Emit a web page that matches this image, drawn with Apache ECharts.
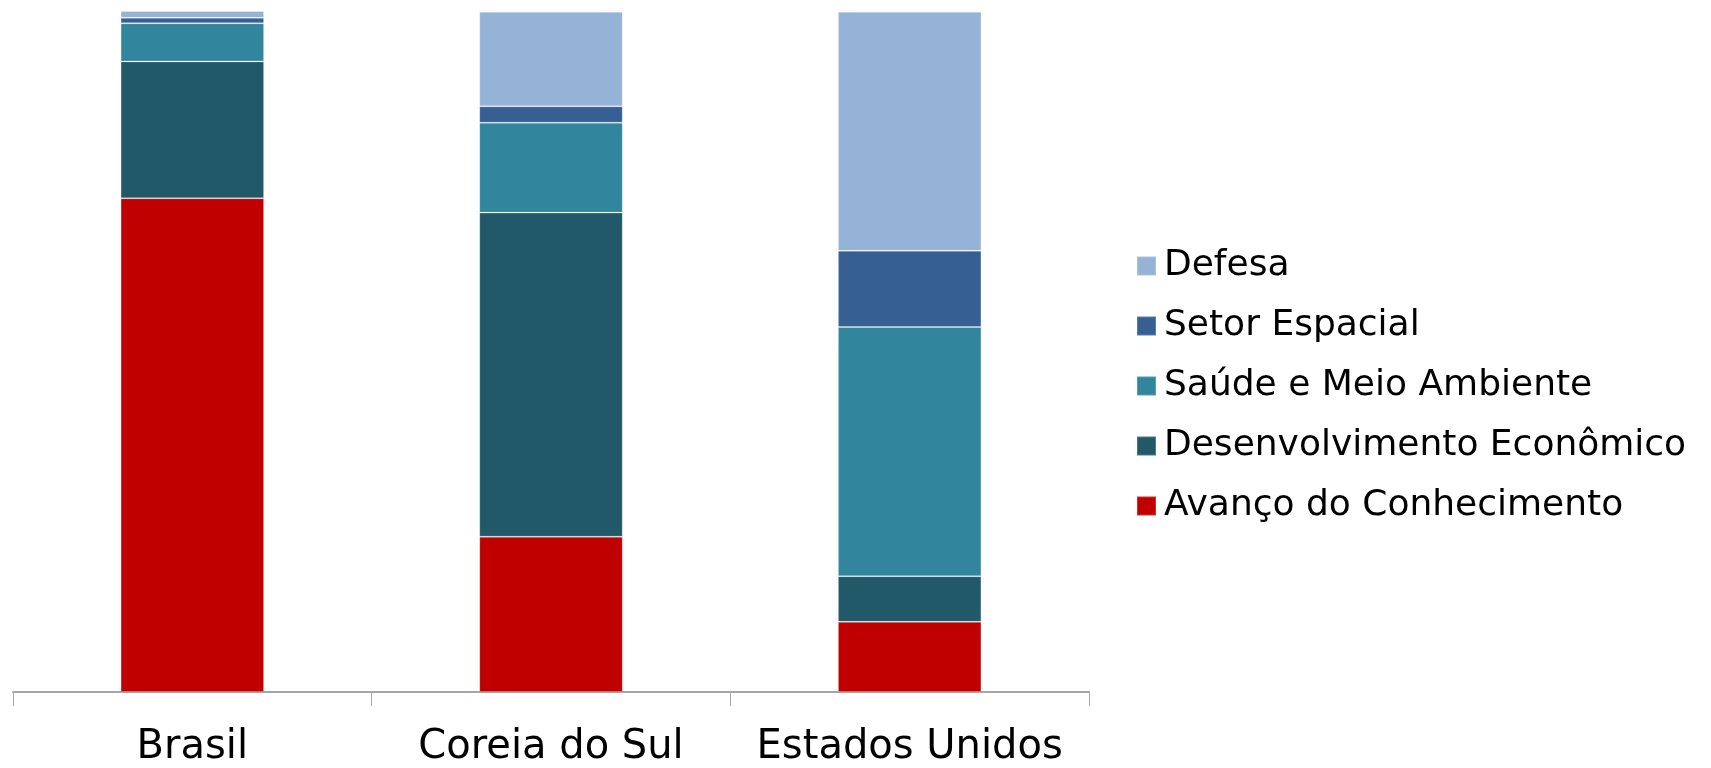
<!DOCTYPE html>
<html>
<head>
<meta charset="utf-8">
<script src="https://cdn.jsdelivr.net/npm/echarts@6/dist/echarts.min.js"></script>
<style>
  html, body { margin: 0; padding: 0; background: #fff; }
  #main { width: 1711px; height: 768px; }
</style>
</head>
<body>
<div id="main"></div>
<script>
// categories and shares (%)
var countries = ['Brasil', 'Coreia do Sul', 'Estados Unidos'];
var avanco = [72.5, 22.8, 10.3];
var desenvolvimento = [20.1, 47.6, 6.7];
var saude = [5.6, 13.2, 36.6];
var espacial = [0.8, 2.4, 11.2];
var defesa = [1.0, 13.9, 35.1];

var legendOrder = ['Defesa', 'Setor Espacial', 'Saúde e Meio Ambiente', 'Desenvolvimento Econômico', 'Avanço do Conhecimento'];

var fontName = 'DejaVu Sans';

function bar(name, values, color) {
    return {
        name: name,
        type: 'bar',
        stack: 'total',
        barWidth: '40%',
        data: values,
        itemStyle: {
            color: color,
            borderColor: 'rgba(255,255,255,0.2)',
            borderWidth: 1
        },
        emphasis: { disabled: true }
    };
}

var option = {
    animation: false,
    grid: { left: 13, right: 622, top: 11, bottom: 75 },
    legend: {
        orient: 'vertical',
        left: 1131,
        top: 241,
        data: legendOrder,
        icon: 'rect',
        itemWidth: 19,
        itemHeight: 19,
        itemGap: 20,
        textStyle: {
            fontFamily: fontName, fontSize: 36, color: '#000',
            lineHeight: 40, padding: [0, 0, 0, 3]
        }
    },
    xAxis: {
        type: 'category',
        data: countries,
        axisLine: { lineStyle: { color: '#a6a6a6', width: 2 } },
        axisTick: { show: true, interval: 0, alignWithLabel: false, length: 14, lineStyle: { color: '#a6a6a6', width: 1 } },
        axisLabel: {
            interval: 0,
            hideOverlap: false,
            margin: 36,
            fontFamily: fontName,
            fontSize: 40,
            color: '#000'
        }
    },
    yAxis: {
        type: 'value',
        min: 0,
        max: 100,
        show: false
    },
    series: [
        bar('Avanço do Conhecimento', avanco, '#c00000'),
        bar('Desenvolvimento Econômico', desenvolvimento, '#215968'),
        bar('Saúde e Meio Ambiente', saude, '#31859c'),
        bar('Setor Espacial', espacial, '#366092'),
        bar('Defesa', defesa, '#95b3d7')
    ]
};

var myChart = echarts.init(document.getElementById('main'));
myChart.setOption(option);
</script>
</body>
</html>
